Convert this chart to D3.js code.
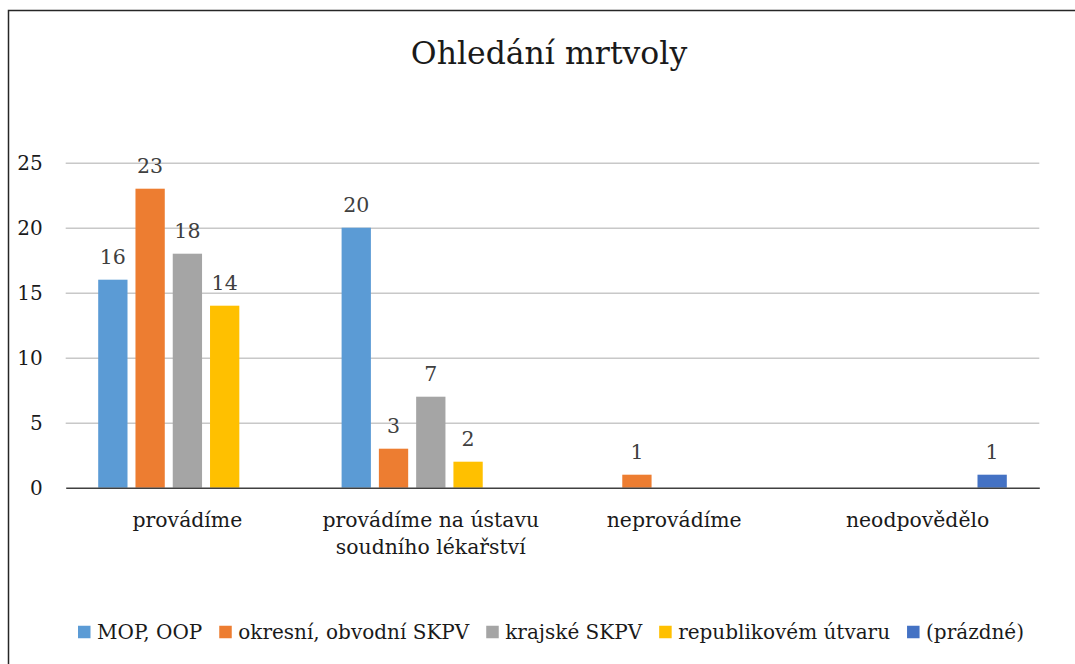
<!DOCTYPE html>
<html>
<head>
<meta charset="utf-8">
<script src="https://cdn.jsdelivr.net/npm/d3@7"></script>
<style>
  body { margin: 0; background: #fff; }
  svg { display: block; font-family: "DejaVu Serif", serif; }
</style>
</head>
<body>
<svg id="chart"></svg>
<script>
const width = 1075;
const height = 664;

// data
const categories = ["provádíme", "provádíme na ústavu soudního lékařství", "neprovádíme", "neodpovědělo"];
const categoryLines = [["provádíme"], ["provádíme na ústavu", "soudního lékařství"], ["neprovádíme"], ["neodpovědělo"]];
const seriesNames = ["MOP, OOP", "okresní, obvodní SKPV", "krajské SKPV", "republikovém útvaru", "(prázdné)"];
const seriesColors = ["#5B9BD5", "#ED7D31", "#A5A5A5", "#FFC000", "#4472C4"];
const mopOop = [16, 20, 0, 0];
const okresni = [23, 3, 1, 0];
const krajske = [18, 7, 0, 0];
const republikove = [14, 2, 0, 0];
const prazdne = [0, 0, 0, 1];
const yTicks = [0, 5, 10, 15, 20, 25];

const seriesValues = [mopOop, okresni, krajske, republikove, prazdne];

const svg = d3.select("#chart")
    .attr("width", width)
    .attr("height", height);

const margin = { top: 162.7, right: 1075 - 1039.3, bottom: 664 - 487.7, left: 65.7 };

// chart border (cropped on right and bottom)
svg.append("rect")
    .attr("x", 8.5)
    .attr("y", 10.5)
    .attr("width", 1200)
    .attr("height", 800)
    .attr("fill", "none")
    .attr("stroke", "#262626")
    .attr("stroke-width", 1.5);

const x0 = d3.scaleBand()
    .domain(categories)
    .range([margin.left, width - margin.right])
    .padding(0);

const outerGap = 32.5;
const x1 = d3.scaleBand()
    .domain(seriesNames)
    .range([outerGap, x0.bandwidth() - outerGap])
    .paddingInner(0.214)
    .paddingOuter(0);

const y = d3.scaleLinear()
    .domain([0, 25])
    .range([height - margin.bottom, margin.top]);

// gridlines + y labels
const yAxis = svg.append("g")
    .attr("transform", `translate(${margin.left},0)`)
    .call(d3.axisLeft(y).tickValues(yTicks).tickSize(-(width - margin.left - margin.right)).tickPadding(23));

yAxis.select(".domain").remove();
yAxis.selectAll(".tick line")
    .attr("stroke", "#c8c8c8")
    .attr("stroke-width", 1.5);
yAxis.selectAll(".tick text")
    .attr("font-family", "DejaVu Serif")
    .attr("font-size", "20px")
    .attr("fill", "#1a1a1a");
yAxis.selectAll(".tick").filter(d => d === 0).select("line").remove();

// bars
const rows = categories.map((c, i) => ({ cat: c, vals: seriesNames.map((s, j) => ({ s, v: seriesValues[j][i], color: seriesColors[j] })) }));

const groups = svg.selectAll("g.group")
    .data(rows)
    .enter()
    .append("g")
    .attr("class", "group")
    .attr("transform", d => `translate(${x0(d.cat)},0)`);

const nonZero = d => d.vals.filter(v => v.v > 0);

groups.selectAll("rect")
    .data(nonZero)
    .enter()
    .append("rect")
    .attr("x", d => x1(d.s))
    .attr("y", d => y(d.v))
    .attr("width", x1.bandwidth())
    .attr("height", d => y(0) - y(d.v))
    .attr("fill", d => d.color);

groups.selectAll("text.label")
    .data(nonZero)
    .enter()
    .append("text")
    .attr("class", "label")
    .attr("x", d => x1(d.s) + x1.bandwidth() / 2)
    .attr("y", d => y(d.v) - 16)
    .attr("text-anchor", "middle")
    .attr("font-size", "20.5px")
    .attr("fill", "#404040")
    .text(d => d.v);

// x axis
const xAxis = svg.append("g")
    .attr("transform", `translate(0,${y(0)})`)
    .call(d3.axisBottom(x0).tickSize(0).tickFormat(""));

xAxis.select(".domain")
    .attr("stroke", "#404040")
    .attr("stroke-width", 1.5);

categories.forEach((c, i) => {
    const t = svg.append("text")
        .attr("x", x0(c) + x0.bandwidth() / 2)
        .attr("y", 527)
        .attr("text-anchor", "middle")
        .attr("font-size", "20.4px")
        .attr("fill", "#1a1a1a");
    categoryLines[i].forEach((line, k) => {
        t.append("tspan")
            .attr("x", x0(c) + x0.bandwidth() / 2)
            .attr("dy", k === 0 ? 0 : 26.5)
            .text(line);
    });
});

// title
svg.append("text")
    .attr("x", 549)
    .attr("y", 64)
    .attr("text-anchor", "middle")
    .attr("font-size", "31.5px")
    .attr("fill", "#1a1a1a")
    .text("Ohledání mrtvoly");

// legend
const legend = svg.append("g").attr("class", "legend");
const sq = 12.5;
const textGap = 6.5;
const itemGap = 17;
let lx = 0;
seriesNames.forEach((s, i) => {
    legend.append("rect")
        .attr("x", lx)
        .attr("y", -sq / 2)
        .attr("width", sq)
        .attr("height", sq)
        .attr("fill", seriesColors[i]);
    const t = legend.append("text")
        .attr("x", lx + sq + textGap)
        .attr("y", 0)
        .attr("dy", "0.35em")
        .attr("font-size", "20px")
        .attr("fill", "#1a1a1a")
        .text(s);
    lx += sq + textGap + t.node().getComputedTextLength() + itemGap;
});
const legendWidth = lx - itemGap;
legend.attr("transform", `translate(${551 - legendWidth / 2},632)`);
</script>
</body>
</html>
